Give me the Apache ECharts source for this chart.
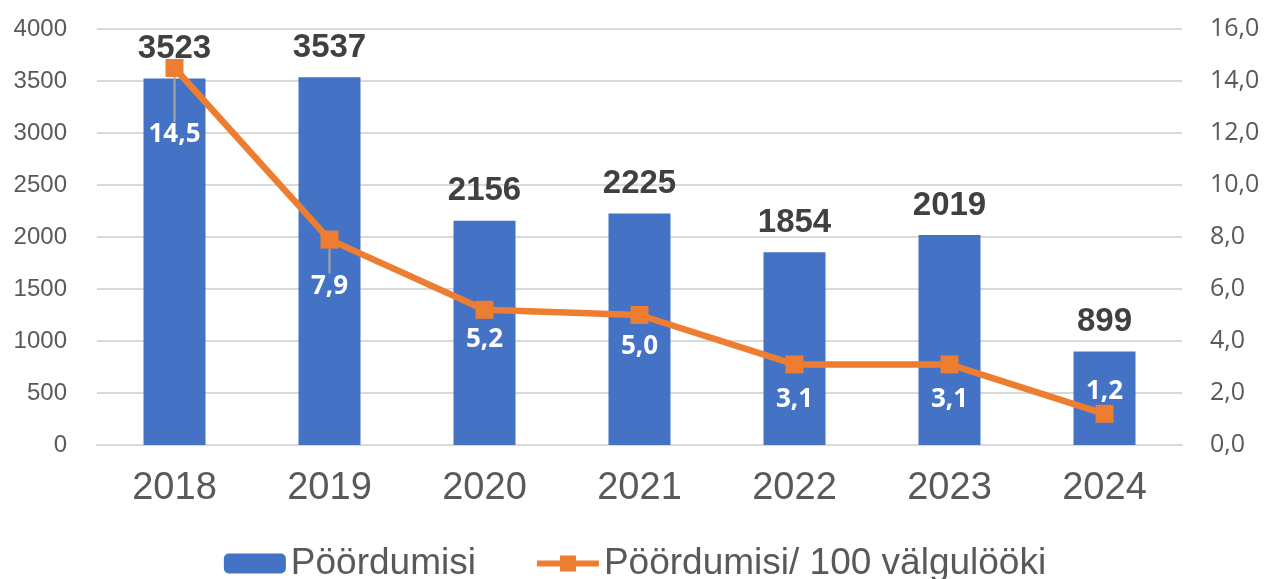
<!DOCTYPE html>
<html>
<head>
<meta charset="utf-8">
<script src="https://cdn.jsdelivr.net/npm/echarts@6/dist/echarts.min.js"></script>
<style>
  html, body { margin: 0; padding: 0; background: #fff; }
  #chart { width: 1270px; height: 579px; }
</style>
</head>
<body>
<div id="chart"></div>
<script>
'use strict'

/* Chart data */
var years = ['2018', '2019', '2020', '2021', '2022', '2023', '2024'];
var appeals = [3523, 3537, 2156, 2225, 1854, 2019, 899];
var perHundred = [14.5, 7.9, 5.2, 5.0, 3.1, 3.1, 1.2];
var seriesNames = ['Pöördumisi', 'Pöördumisi/ 100 välgulööki'];

/* label shift below/above each line point, leader line on first two */
var labelShift = [67, 47, 30, 32, 35, 35, -22];
var withLeader = [true, true, false, false, false, false, false];

function comma(v) {
    return Number(v).toFixed(1).replace('.', ',');
}

var chart = echarts.init(document.getElementById('chart'));

chart.setOption({
    animation: false,
    grid: {
        left: 97,
        right: 88,
        top: 29,
        bottom: 134,
        outerBoundsMode: 'none'
    },
    legend: {
        top: 540,
        left: 'center',
        itemWidth: 62,
        itemHeight: 20,
        itemGap: 58,
        textStyle: {
            fontFamily: 'Liberation Sans',
            fontSize: 37,
            color: '#595959'
        },
        data: [
            { name: seriesNames[0] },
            { name: seriesNames[1], lineStyle: { width: 6 } }
        ]
    },
    xAxis: {
        type: 'category',
        data: years,
        axisTick: { show: false },
        axisLine: { lineStyle: { color: '#d9d9d9', width: 2 } },
        axisLabel: {
            fontFamily: 'Liberation Sans',
            fontSize: 38,
            color: '#595959',
            margin: 25
        }
    },
    yAxis: [{
        type: 'value',
        min: 0,
        max: 4000,
        interval: 500,
        axisLabel: {
            fontFamily: 'Liberation Sans',
            fontSize: 24,
            color: '#595959',
            margin: 30,
            formatter: function (v) { return String(v); }
        },
        splitLine: { lineStyle: { color: '#d9d9d9', width: 2 } }
    }, {
        type: 'value',
        min: 0,
        max: 16,
        interval: 2,
        splitLine: { show: false },
        axisLabel: {
            fontFamily: 'Open Sans',
            fontSize: 25,
            color: '#595959',
            margin: 28,
            formatter: comma
        }
    }],
    series: [{
        name: seriesNames[0],
        type: 'bar',
        barWidth: '40%',
        itemStyle: { color: '#4472c4' },
        label: {
            show: true,
            position: 'top',
            distance: 13,
            fontFamily: 'Liberation Sans',
            fontSize: 33,
            fontWeight: 'bold',
            color: '#404040'
        },
        data: appeals
    }, {
        name: seriesNames[1],
        type: 'line',
        yAxisIndex: 1,
        symbol: 'rect',
        symbolSize: 18,
        lineStyle: { width: 6.5, color: '#ed7d31' },
        itemStyle: { color: '#ed7d31' },
        label: {
            show: true,
            position: 'inside',
            fontFamily: 'Open Sans',
            fontSize: 26,
            fontWeight: 'bold',
            color: '#ffffff',
            formatter: function (p) { return comma(p.value); }
        },
        labelLine: {
            show: true,
            lineStyle: { color: '#a6a6a6', width: 2 }
        },
        labelLayout: function (p) {
            return { dy: labelShift[p.dataIndex] };
        },
        data: perHundred.map(function (v, i) {
            return { value: v, labelLine: { show: withLeader[i] } };
        }),
        z: 5
    }]
});
</script>
</body>
</html>
